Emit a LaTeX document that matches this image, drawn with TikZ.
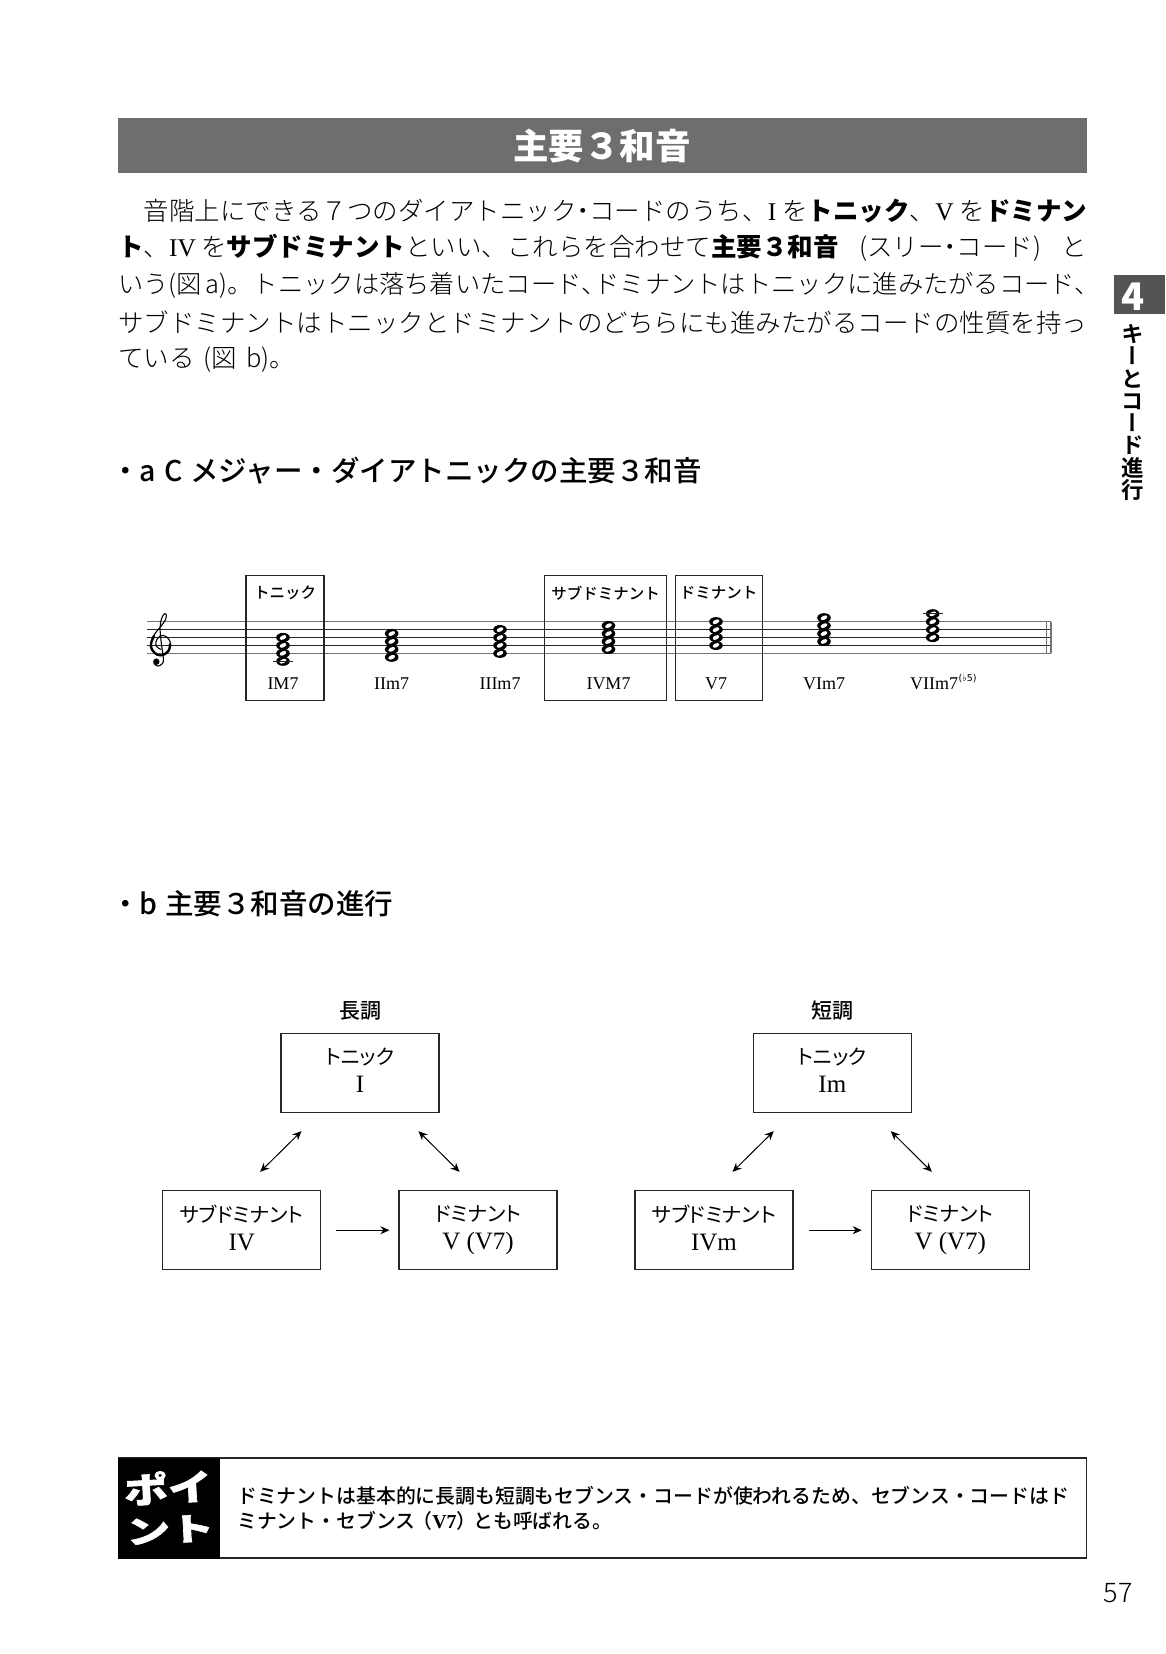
\documentclass[tikz,border=0pt]{standalone}
\usepackage{fontspec}
\usepackage{graphicx}
\usetikzlibrary{arrows.meta}
\setmainfont{Noto Sans CJK JP Light}[BoldFont={Noto Sans CJK JP Black}]
\newfontfamily\ser{Liberation Serif}
\newfontfamily\palt[RawFeature=+palt]{Noto Sans CJK JP}
\newfontfamily\nk[RawFeature=+palt]{Noto Sans CJK JP Light}
\newfontfamily\med{Noto Sans CJK JP Medium}
\newfontfamily\medp[RawFeature=+palt]{Noto Sans CJK JP Medium}
\newfontfamily\fat[FakeBold=1.5]{Noto Sans CJK JP Black}
\newfontfamily\vtext[RawFeature=+vert]{Noto Sans CJK JP Bold}
\newfontfamily\flatf{DejaVu Sans}
\newcommand\fz[1]{\fontsize{#1}{#1}\selectfont}
\parindent=0pt
\tikzset{
  jline/.style={anchor=west,inner sep=0pt,font=\fz{25.5}},
  shead/.style={anchor=west,inner sep=0pt,font=\med\fz{28.5}},
  abox/.style={draw=black!85,line width=1.1pt,inner sep=0pt,minimum width=#1,minimum height=125},
  alabel/.style={inner sep=0pt,font=\med\fz{15.5}},
  chordl/.style={inner sep=0pt,font=\ser\fz{18}},
  fbox/.style={draw=black!85,line width=1.1pt,inner sep=0pt,minimum width=158,minimum height=79,align=center,font=\palt\fz{20.5}},
  ftitle/.style={inner sep=0pt,font=\med\fz{21}},
  dbl/.style={line width=1pt,{Stealth[length=9pt,width=8pt]}-{Stealth[length=9pt,width=8pt]},shorten <=26pt,shorten >=26pt},
  sgl/.style={line width=1pt,-{Stealth[length=9pt,width=8pt]},shorten <=15pt,shorten >=9pt},
  plain/.style={inner sep=0pt}
}
\newcommand\flabel[2]{#1\\[8pt]{\ser\fz{25}\vphantom{(}#2}}
\begin{document}
\begin{tikzpicture}[x=1pt,y=-1pt]
\useasboundingbox[fill=white] (0,0) rectangle (1165,1654);

% header
\node[fill=black!57,minimum width=969,minimum height=55,inner sep=0pt] (hbar) at (602.5,145.5) {};
\node[plain,text=white,font=\bfseries\fz{35.5}] (htitle) at (602,146) {主要３和音};

% body text
\node[jline] (l1) at (143.5,211) {\makebox[943.5pt][s]{音階上にできる７つのダイアトニック{\nk ・}コードのうち、{\ser I} を\textbf{トニック}、{\ser V} を\textbf{ドミナン}}};
\node[jline] (l2) at (118,248) {\makebox[969pt][s]{\textbf{ト}、{\ser IV}\hspace{5pt}を\textbf{サブドミナント}といい、これらを合わせて\textbf{主要３和音} (スリー{\nk ・}コード) と}};
\node[jline,font=\fz{25.3}] (l3) at (118,285) {\makebox[969pt][s]{いう(図 a)。トニックは落ち着いたコード{\nk 、}ドミナントはトニックに進みたがるコード{\nk 、}}};
\node[jline] (l4) at (118,323) {サブドミナントはトニックとドミナントのどちらにも進みたがるコードの性質を持っ};
\node[jline] (l5) at (118,360) {ている\hspace{3pt} (図\hspace{4pt} b)。};

% side tab
\node[fill=black!67,minimum width=51,minimum height=39,inner sep=0pt] (tab) at (1139.5,294.5) {};
\node[plain,text=white,font=\bfseries\fz{38}] (tabn) at (1133,297) {4};
\node[plain,align=center,font=\vtext\fontsize{22.5}{22.3}\selectfont] (tabt) at (1133,412.5) {キ\\ー\\と\\コ\\ー\\ド\\進\\行};

% section a
\node[shead] (sa) at (118,471) {{\medp ・}\hspace{7pt}a\hspace{9pt}C\hspace{7pt}メジャー・ダイアトニックの主要３和音};

% staff
\foreach \yy in {621.7,653.3} \draw[black!55,line width=1.2pt] (147,\yy) -- (1051,\yy);
\foreach \yy in {629.6,637.5,645.4} \draw[black!85,line width=.8pt] (147,\yy) -- (1051,\yy);
\draw[black!55,line width=1.1pt] (1046.7,621.7) -- (1046.7,653.3);
\draw[black!55,line width=1.1pt] (1051,621.7) -- (1051,653.3);

% treble clef
\begin{scope}[shift={(120,560)},x=.3333pt,y=-.3333pt,line cap=round]
\draw[line width=1.1pt] plot[smooth,tension=.7] coordinates {(122,268)(108,256)(112,236)(130,226)(148,240)(151,260)(136,282)(115,286)(97,272)(92,252)(102,225)(122,200)(137,178)(138,162)(130,165)(122,185)(120,205)(124,250)(130,295)(126,312)(112,318)(102,310)};
\draw[line width=2.4pt] plot[smooth,tension=.7] coordinates {(150,252)(146,272)(130,284)(112,284)(97,270)(93,252)(102,228)};
\fill (109,305) circle (3.2pt);
\end{scope}

% chords
\foreach \cx/\bn in {283/-2,391.7/-1,500/0,608.5/1,716/2,824/3,932.7/4}{
  \foreach \k in {0,2,4,6}{
    \pgfmathsetmacro\ny{653.3-3.95*(\bn+\k)}
    \fill (\cx,\ny) ellipse (6.8pt and 4.6pt);
  }
  \foreach \k in {0,2,4,6}{
    \pgfmathsetmacro\ny{653.3-3.95*(\bn+\k)}
    \fill[white,rotate around={25:(\cx,\ny)}] (\cx,\ny) ellipse (3.6pt and 2pt);
  }
}
\draw[black!85,line width=.8pt] (273,661.2) -- (293,661.2);
\draw[black!85,line width=.8pt] (923,613.8) -- (943,613.8);

% boxes a
\node[abox=78] (bt) at (285,638.4) {};
\node[abox=122.3] (bs) at (605.2,638.4) {};
\node[abox=87] (bd) at (719.2,638.4) {};
\node[alabel] (lt) at (285,593) {トニック};
\node[alabel] (ls) at (605.5,593) {サブドミナント};
\node[alabel] (ld) at (718.5,593) {ドミナント};

\node[chordl] (c1) at (283,683.5) {IM7};
\node[chordl] (c2) at (391.7,683.5) {IIm7};
\node[chordl] (c3) at (500,683.5) {IIIm7};
\node[chordl] (c4) at (608.5,683.5) {IVM7};
\node[chordl] (c5) at (716,683.5) {V7};
\node[chordl] (c6) at (824,683.5) {VIm7};
\node[chordl,anchor=west] (c7) at (910,683.5) {VIIm7};
\node[plain,anchor=west,font=\flatf\fz{9.5}] (c7s) at (958.5,679) {(♭5)};

% section b
\node[shead] (sb) at (118,904) {{\medp ・}\hspace{7pt}b\hspace{8pt}主要３和音の進行};

\node[ftitle] (tma) at (360,1011) {長調};
\node[fbox] (ton) at (360,1072.8) {\flabel{トニック}{I}};
\node[fbox] (sub) at (241.7,1230.2) {\flabel{サブドミナント}{IV}};
\node[fbox] (dom) at (478,1230.2) {\flabel{ドミナント}{V (V7)}};
\draw[dbl] (ton.225) -- (sub.north);
\draw[dbl] (ton.315) -- (dom.north);
\draw[sgl] (sub) -- (dom);

\node[ftitle] (tmi) at (832.3,1011) {短調};
\node[fbox] (ton2) at (832.3,1072.8) {\flabel{トニック}{Im}};
\node[fbox] (sub2) at (714,1230.2) {\flabel{サブドミナント}{IVm}};
\node[fbox] (dom2) at (950.3,1230.2) {\flabel{ドミナント}{V (V7)}};
\draw[dbl] (ton2.225) -- (sub2.north);
\draw[dbl] (ton2.315) -- (dom2.north);
\draw[sgl] (sub2) -- (dom2);

% point box
\node[draw=black!85,line width=1.1pt,minimum width=968,minimum height=100,inner sep=0pt] (pbox) at (602.5,1508) {};
\node[fill=black,minimum width=102,minimum height=101,inner sep=0pt] (pblk) at (169,1508) {};
\node[plain,text=white,align=center,rotate=3,font=\fat\fz{44}] (ptxt) at (169,1507) {\scalebox{1}[.8]{ポイ}\\[-4pt]\scalebox{1}[.72]{ント}};
\node[plain,anchor=west,font=\med\fz{19.85}] (p1) at (237,1496) {ドミナントは基本的に長調も短調もセブンス・コードが使われるため、セブンス・コードはド};
\node[plain,anchor=west,font=\med\fz{19.85}] (p2) at (237,1520.5) {ミナント・セブンス\hspace{-3pt}（{\ser\bfseries V7}）\hspace{-3pt}とも呼ばれる。};

% page number
\node[plain,font=\fz{27}] (pg) at (1118,1593) {57};
\end{tikzpicture}
\end{document}
